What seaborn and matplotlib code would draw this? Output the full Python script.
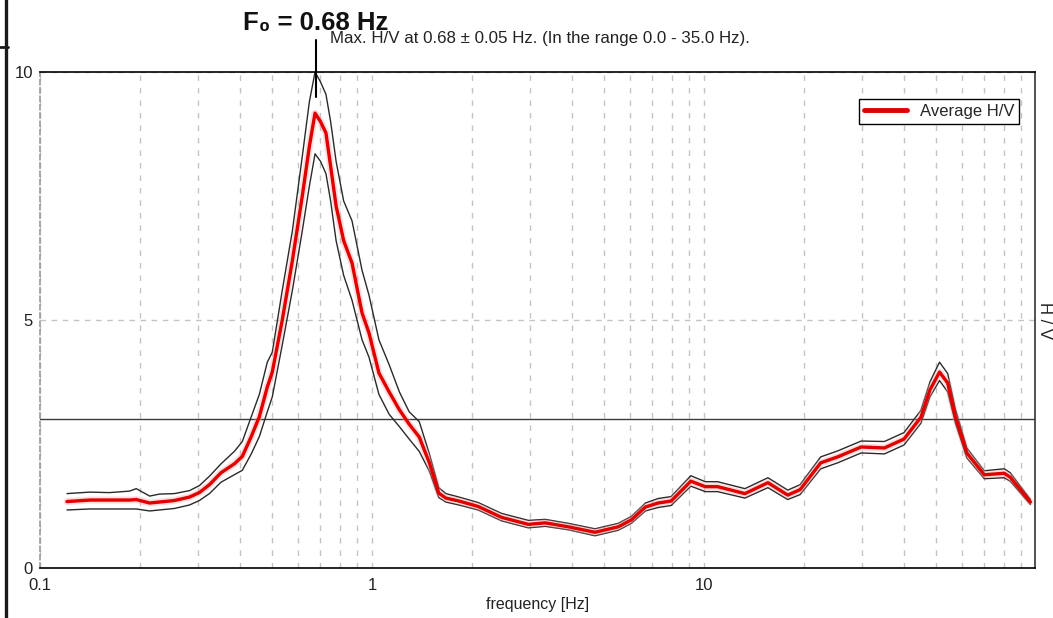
import numpy as np
import pandas as pd
import matplotlib
matplotlib.use("Agg")
import matplotlib.pyplot as plt
import seaborn as sns
from matplotlib.lines import Line2D
from matplotlib.ticker import FixedLocator, FixedFormatter, NullFormatter, LogLocator

# ---------------- data ----------------
freq = [0.1206, 0.1413, 0.162, 0.186, 0.195, 0.214, 0.229, 0.254, 0.282, 0.302,
        0.324, 0.351, 0.385, 0.407, 0.433, 0.458, 0.484, 0.501, 0.537, 0.576,
        0.617, 0.648, 0.674, 0.700, 0.727, 0.751, 0.780, 0.822, 0.871, 0.934,
        0.980, 1.050, 1.127, 1.21, 1.295, 1.389, 1.490, 1.59, 1.67, 1.83,
        2.09, 2.46, 2.96, 3.33, 3.91, 4.70, 5.52, 6.05, 6.67, 7.28,
        7.97, 9.14, 10.1, 11.0, 13.3, 15.6, 17.9, 19.5, 22.5, 25.3,
        29.8, 35.0, 40.1, 45.1, 48.0, 51.3, 54.3, 57.3, 62.0, 70.0,
        80.4, 83.8, 96.4]
hv_avg = [1.34, 1.37, 1.37, 1.37, 1.38, 1.31, 1.33, 1.36, 1.43, 1.52,
          1.68, 1.92, 2.10, 2.25, 2.65, 3.05, 3.65, 3.95, 5.00, 6.20,
          7.50, 8.50, 9.17, 9.00, 8.77, 8.10, 7.30, 6.60, 6.15, 5.14,
          4.74, 3.93, 3.55, 3.19, 2.90, 2.64, 2.12, 1.51, 1.41, 1.35,
          1.24, 1.02, 0.88, 0.91, 0.83, 0.72, 0.83, 0.97, 1.23, 1.31,
          1.35, 1.75, 1.64, 1.64, 1.50, 1.72, 1.47, 1.58, 2.12, 2.24,
          2.44, 2.42, 2.60, 3.04, 3.59, 3.95, 3.73, 3.04, 2.32, 1.88,
          1.91, 1.83, 1.33]
hv_upper = [1.50, 1.53, 1.52, 1.55, 1.60, 1.45, 1.49, 1.50, 1.56, 1.66,
            1.85, 2.10, 2.35, 2.55, 3.05, 3.50, 4.15, 4.35, 5.60, 6.80,
            8.30, 9.40, 10.0, 9.80, 9.55, 9.00, 8.20, 7.40, 7.00, 6.00,
            5.50, 4.60, 4.10, 3.55, 3.15, 2.95, 2.30, 1.62, 1.50, 1.43,
            1.32, 1.10, 0.96, 0.98, 0.90, 0.79, 0.90, 1.04, 1.31, 1.40,
            1.44, 1.86, 1.74, 1.74, 1.60, 1.82, 1.57, 1.68, 2.24, 2.36,
            2.56, 2.55, 2.73, 3.18, 3.75, 4.15, 3.92, 3.20, 2.42, 1.96,
            2.00, 1.92, 1.38]
hv_lower = [1.17, 1.19, 1.19, 1.19, 1.19, 1.15, 1.17, 1.20, 1.27, 1.36,
            1.50, 1.73, 1.88, 1.97, 2.30, 2.65, 3.15, 3.45, 4.50, 5.60,
            6.80, 7.70, 8.35, 8.20, 7.95, 7.40, 6.60, 5.90, 5.40, 4.60,
            4.25, 3.50, 3.10, 2.85, 2.60, 2.35, 1.95, 1.42, 1.33, 1.27,
            1.17, 0.95, 0.81, 0.84, 0.77, 0.65, 0.76, 0.90, 1.15, 1.22,
            1.26, 1.65, 1.54, 1.54, 1.41, 1.62, 1.38, 1.48, 2.00, 2.12,
            2.32, 2.30, 2.48, 2.92, 3.45, 3.78, 3.55, 2.92, 2.22, 1.80,
            1.82, 1.75, 1.28]

x_ticks = [0.1, 1, 10]
x_tick_labels = ["0.1", "1", "10"]
y_ticks = [0, 5, 10]
y_tick_labels = ["0", "5", "10"]
f0 = 0.68
threshold = 3.0
title_text = "F\u2080 = 0.68 Hz"
info_text = "Max. H/V at 0.68 \u00b1 0.05 Hz. (In the range 0.0 - 35.0 Hz)."

df = pd.DataFrame({"freq": freq, "avg": hv_avg, "upper": hv_upper, "lower": hv_lower})

# ---------------- style ----------------
sns.set_theme(style="white")
plt.rcParams["font.family"] = ["Liberation Sans", "DejaVu Sans"]
sans = ["Liberation Sans", "DejaVu Sans"]

W, H = 1053, 618
fig = plt.figure(figsize=(W / 100, H / 100), dpi=100)
ax = fig.add_axes([40 / W, 50 / H, 995 / W, 496 / H])

# band and average
sns.lineplot(data=df, x="freq", y="upper", ax=ax, color="#2a2a2a", lw=1.0,
             estimator=None, sort=False, legend=False)
sns.lineplot(data=df, x="freq", y="lower", ax=ax, color="#2a2a2a", lw=1.0,
             estimator=None, sort=False, legend=False)
sns.lineplot(data=df, x="freq", y="avg", ax=ax, color="#ff9a9a", lw=5.0, alpha=0.35,
             estimator=None, sort=False, legend=False)
sns.lineplot(data=df, x="freq", y="avg", ax=ax, color="#e00000", lw=2.4,
             estimator=None, sort=False, label="Average H/V")

ax.axhline(threshold, color="#3a3a3a", lw=1.0, zorder=1)

ax.set_xscale("log")
ax.set_xlim(0.1, 99.5)
ax.set_ylim(0, 10)

ax.xaxis.set_major_locator(FixedLocator(x_ticks))
ax.xaxis.set_major_formatter(FixedFormatter(x_tick_labels))
ax.xaxis.set_minor_locator(LogLocator(base=10, subs=np.arange(2, 10)))
ax.xaxis.set_minor_formatter(NullFormatter())
ax.yaxis.set_major_locator(FixedLocator(y_ticks))
ax.yaxis.set_major_formatter(FixedFormatter(y_tick_labels))

ax.grid(False)
ax.xaxis.grid(True, which="both", ls=(0, (4, 5)), color="#c4c4c4", lw=1.0)
ax.yaxis.grid(True, which="major", ls=(0, (4, 4)), color="#c4c4c4", lw=1.0)
ax.set_axisbelow(True)

ax.tick_params(axis="both", which="both", length=0, labelsize=12, colors="#222222")
ax.tick_params(axis="x", pad=7)
ax.tick_params(axis="y", pad=5)

for s in ["top", "bottom"]:
    ax.spines[s].set_color("black")
    ax.spines[s].set_linewidth(1.2)
ax.spines["right"].set_color("#333333")
ax.spines["right"].set_linewidth(1.2)
ax.spines["left"].set_color("#9a9a9a")
ax.spines["left"].set_linestyle((0, (3, 2)))
ax.spines["left"].set_linewidth(1.2)

ax.set_xlabel("frequency [Hz]", fontsize=11.5, color="#222222")
ax.xaxis.set_label_coords(0.5, -0.058)
ax.set_ylabel("")

leg = ax.legend(loc="upper right", bbox_to_anchor=(0.984, 0.946), borderaxespad=0,
                frameon=True, fancybox=False, edgecolor="black", framealpha=1,
                fontsize=12, handlelength=2.6, borderpad=0.3, handletextpad=0.75)
leg.get_frame().set_linewidth(1.0)
for h in leg.get_lines():
    h.set_linewidth(3.5)

# peak marker
ax.plot([f0, f0], [9.5, 10.65], color="black", lw=1.5, clip_on=False, zorder=5)
ax.annotate(title_text, xy=(f0, 10), xycoords="data", xytext=(-1, 42),
            textcoords="offset pixels", ha="center", va="baseline",
            fontsize=18.5, fontweight="bold", color="#111111",
            family=sans, annotation_clip=False)
ax.annotate(info_text, xy=(f0, 10), xycoords="data", xytext=(14, 33),
            textcoords="offset pixels", ha="left", va="center",
            fontsize=12.2, color="#222222", family=sans, annotation_clip=False)

# right label
fig.text(1044 / W, 1 - 320 / H, "H / V", rotation=270, ha="center", va="center",
         fontsize=12, color="#222222")

# screenshot frame artifacts
fig.add_artist(Line2D([6 / W, 6 / W], [0, 1], transform=fig.transFigure,
                      color="#1a1a1a", lw=2.4))
fig.add_artist(Line2D([0, 8 / W], [1 - 47 / H, 1 - 47 / H], transform=fig.transFigure,
                      color="#1a1a1a", lw=2.0))

fig.savefig("out.png", dpi=100)
